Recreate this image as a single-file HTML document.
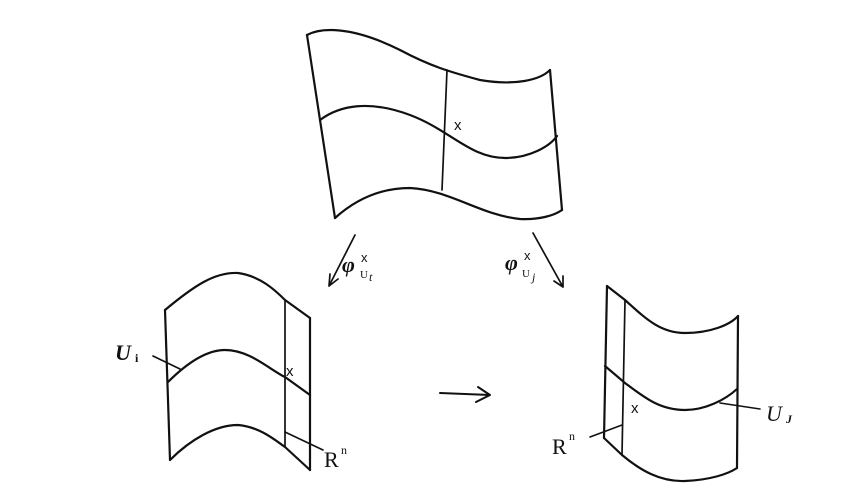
<!DOCTYPE html>
<html><head><style>body{margin:0;background:#fff}svg{display:block}</style></head><body>
<svg width="844" height="496" viewBox="0 0 844 496" xmlns="http://www.w3.org/2000/svg">
<g fill="none" stroke="#111" stroke-width="2.2" stroke-linecap="round" stroke-linejoin="round">
<path d="M307,35 C320,28 350,25 400,50 C430,66 450,72 480,80 C515,86 540,80 550,70"/>
<path d="M550,70 L562,210"/>
<path d="M335,218 C355,200 380,188 410,188 C450,190 480,215 520,219 C540,220 555,215 562,210"/>
<path d="M307,35 L335,218"/>
<path d="M320,120 C340,105 370,100 410,115 C450,130 470,158 505,158 C530,158 550,146 557,136"/>
<path d="M447,70 L442,190" stroke-width="1.7"/>
<path d="M355,235 L329,286 M329,286 L330,274 M329,286 L338,279" stroke-width="1.7"/>
<path d="M533,233 L563,287 M563,287 L554,281 M563,287 L563,276" stroke-width="1.7"/>
<path d="M165,310 C195,285 215,272 238,273 C260,276 275,290 285,300 L310,318"/>
<path d="M165,310 L170,460"/>
<path d="M310,318 L310,470"/>
<path d="M285,300 L285,447" stroke-width="1.7"/>
<path d="M168,382 C185,365 205,350 225,350 C250,350 270,370 285,377 L310,395"/>
<path d="M170,460 C190,440 215,425 238,425 C260,427 275,440 285,447 L310,470"/>
<path d="M153,356 L180,369 M285,432 L323,450" stroke-width="1.6"/>
<path d="M607,286 L625,300 C645,318 660,333 685,333 C710,333 730,325 738,316"/>
<path d="M607,286 L604,438"/>
<path d="M625,300 L622,455" stroke-width="1.7"/>
<path d="M738,316 L737,468"/>
<path d="M605,366 L625,383 C645,398 660,410 685,410 C705,410 725,400 737,389"/>
<path d="M604,438 L622,455 C640,470 660,482 685,481 C710,480 728,474 737,468"/>
<path d="M720,403 L760,409 M590,437 L622,425" stroke-width="1.6"/>
<path d="M440,393 L490,395 M478,387 L490,395 L476,402" stroke-width="2"/>
</g>
<g font-family="Liberation Serif, serif" fill="#111">
<text x="454" y="130" font-size="15" font-family="Liberation Sans, sans-serif">x</text>
<text x="286" y="376" font-size="15" font-family="Liberation Sans, sans-serif">x</text>
<text x="631" y="413" font-size="15" font-family="Liberation Sans, sans-serif">x</text>
<text x="342" y="272" font-size="22" font-style="italic" font-weight="bold">φ</text>
<text x="361" y="262" font-size="13" font-family="Liberation Sans, sans-serif">x</text>
<text x="360" y="278" font-size="11">U</text><text x="369" y="281" font-size="12" font-style="italic">t</text>
<text x="505" y="270" font-size="22" font-style="italic" font-weight="bold">φ</text>
<text x="524" y="260" font-size="13" font-family="Liberation Sans, sans-serif">x</text>
<text x="522" y="277" font-size="11">U</text><text x="532" y="281" font-size="12" font-style="italic">j</text>
<text x="115" y="360" font-size="22" font-style="italic" font-weight="bold">U</text><text x="135" y="362" font-size="12" font-weight="bold">i</text>
<text x="324" y="467" font-size="22">R</text><text x="341" y="454" font-size="12">n</text>
<text x="552" y="454" font-size="22">R</text><text x="569" y="440" font-size="12">n</text>
<text x="766" y="421" font-size="22" font-style="italic">U</text><text x="786" y="423" font-size="12" font-style="italic" font-weight="bold">J</text>
</g>
</svg>
</body></html>
